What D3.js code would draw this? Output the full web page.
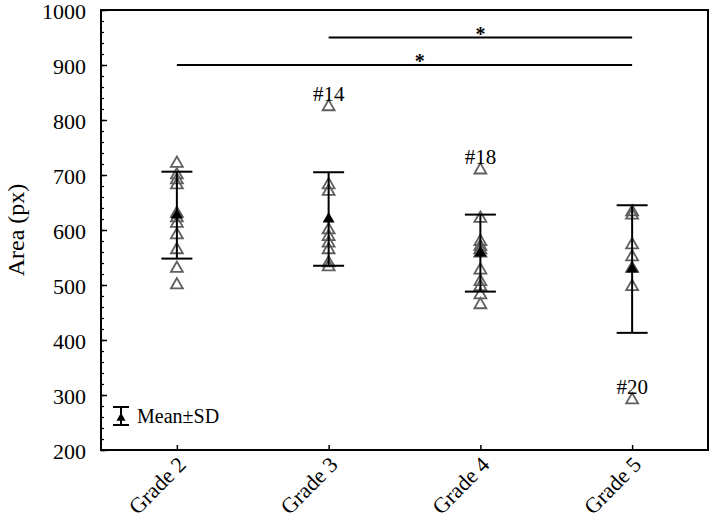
<!DOCTYPE html>
<html>
<head>
<meta charset="utf-8">
<script src="https://cdn.jsdelivr.net/npm/d3@7"></script>
<style>
  body { margin: 0; background: #fff; }
  text { font-family: "Liberation Serif", "Times New Roman", serif; }
</style>
</head>
<body>
<svg id="chart" width="709" height="523"></svg>
<script>
// categories
const grades = ["Grade 2", "Grade 3", "Grade 4", "Grade 5"]

// individual areas (px)
const grade2 = [721, 700, 691, 682, 630, 622, 612, 591, 564, 530, 500]
const grade3 = [824, 682, 670, 600, 588, 576, 564, 540, 533]
const grade4 = [709, 621, 579, 570, 564, 558, 527, 506, 497, 482, 464]
const grade5 = [633, 627, 573, 551, 530, 497, 291]

// mean and SD per grade
const means = [627, 620, 558, 529]
const sds = [79, 85, 70, 116]

// labelled outliers
const outlierGrades = ["Grade 3", "Grade 4", "Grade 5"]
const outlierValues = [824, 709, 291]
const outlierLabels = ["#14", "#18", "#20"]

// significance bars
const sigFrom = ["Grade 3", "Grade 2"]
const sigTo = ["Grade 5", "Grade 5"]
const sigLevel = [950, 900]
const sigStarAt = [2, 1.6]   // star position in category index units

const yTicks = [200, 300, 400, 500, 600, 700, 800, 900, 1000]

let margin = {top: 10, right: 1, bottom: 73, left: 101}
let width = 709, height = 523
let svg = d3.select("#chart")

let x = d3.scalePoint()
  .domain(grades)
  .range([margin.left, width - margin.right])
  .padding(0.5)

let y = d3.scaleLinear()
  .domain([200, 1000])
  .range([height - margin.bottom, margin.top])

let xIdx = d3.scaleLinear()
  .domain([0, grades.length - 1])
  .range([x(grades[0]), x(grades[grades.length - 1])])

// minor ticks
svg.append("g")
  .attr("transform", `translate(${margin.left},0)`)
  .call(d3.axisLeft(y).ticks(40).tickSize(-3).tickFormat(""))
  .call(g => g.select(".domain").remove())
  .selectAll("line").attr("stroke-width", 1.3)

// y axis
let yAxis = svg.append("g")
  .attr("transform", `translate(${margin.left},0)`)
  .call(d3.axisLeft(y).tickValues(yTicks).tickFormat(d3.format("d"))
    .tickSize(-6).tickSizeOuter(0).tickPadding(15))
yAxis.select(".domain").remove()
yAxis.selectAll("line").attr("stroke-width", 1.5)
yAxis.selectAll("text")
  .attr("dy", "0.4em")
  .attr("font-size", 22)
  .attr("fill", "#000")
  .style("font-family", "'Liberation Serif', serif")

// x axis
let xAxis = svg.append("g")
  .attr("transform", `translate(0,${y(200)})`)
  .call(d3.axisBottom(x).tickSize(-5).tickSizeOuter(0))
xAxis.select(".domain").remove()
xAxis.selectAll("line").attr("stroke-width", 1.5)
xAxis.selectAll("text")
  .attr("x", 0).attr("y", 0).attr("dy", 0)
  .attr("text-anchor", "end")
  .attr("transform", "translate(10,16) rotate(-45)")
  .attr("font-size", 22)
  .attr("fill", "#000")
  .style("font-family", "'Liberation Serif', serif")

// frame
svg.append("rect")
  .attr("x", margin.left)
  .attr("y", y(1000))
  .attr("width", width - margin.right - margin.left)
  .attr("height", y(200) - y(1000))
  .attr("fill", "none")
  .attr("stroke", "#000")
  .attr("stroke-width", 2)

// y label
svg.append("text")
  .attr("transform", `translate(24,${(y(200) + y(1000)) / 2}) rotate(-90)`)
  .attr("text-anchor", "middle")
  .attr("font-size", 24)
  .text("Area (px)")

// points
let series = [grade2, grade3, grade4, grade5]
let points = []
series.forEach((vals, i) => vals.forEach(v => points.push({grade: grades[i], value: v})))

let tri = d3.symbol().type(d3.symbolTriangle).size(62)

svg.append("g")
  .selectAll("path")
  .data(points).enter()
  .append("path")
  .attr("d", tri)
  .attr("transform", d => `translate(${x(d.grade)},${y(d.value)})`)
  .attr("fill", "none")
  .attr("stroke", "#5f5f5f")
  .attr("stroke-width", 1.8)

// error bars
let capHalf = 15.5
let bars = svg.append("g")
grades.forEach((g, i) => {
  let cx = x(g)
  bars.append("line")
    .attr("x1", cx).attr("x2", cx)
    .attr("y1", y(means[i] - sds[i])).attr("y2", y(means[i] + sds[i]))
    .attr("stroke", "#000").attr("stroke-width", 2)
  ;[means[i] - sds[i], means[i] + sds[i]].forEach(v => {
    bars.append("line")
      .attr("x1", cx - capHalf).attr("x2", cx + capHalf)
      .attr("y1", y(v)).attr("y2", y(v))
      .attr("stroke", "#000").attr("stroke-width", 2)
  })
  bars.append("path")
    .attr("d", tri)
    .attr("transform", `translate(${cx},${y(means[i])})`)
    .attr("fill", "#000")
})

// outlier labels
svg.append("g")
  .selectAll("text")
  .data(outlierLabels).enter()
  .append("text")
  .attr("x", (d, i) => x(outlierGrades[i]))
  .attr("y", (d, i) => y(outlierValues[i]) - 6)
  .attr("text-anchor", "middle")
  .attr("font-size", 21)
  .text(d => d)

// significance
sigLevel.forEach((lv, i) => {
  svg.append("line")
    .attr("x1", x(sigFrom[i])).attr("x2", x(sigTo[i]))
    .attr("y1", y(lv)).attr("y2", y(lv))
    .attr("stroke", "#000").attr("stroke-width", 2)
  svg.append("text")
    .attr("x", xIdx(sigStarAt[i]))
    .attr("y", y(lv) + 3)
    .attr("text-anchor", "middle")
    .attr("font-size", 20)
    .attr("font-weight", "bold")
    .text("*")
})

// legend
let lg = svg.append("g").attr("transform", "translate(121,416)")
lg.append("line").attr("x1", 0).attr("x2", 0).attr("y1", -9).attr("y2", 9)
  .attr("stroke", "#000").attr("stroke-width", 2)
lg.append("line").attr("x1", -8).attr("x2", 8).attr("y1", -9).attr("y2", -9)
  .attr("stroke", "#000").attr("stroke-width", 2)
lg.append("line").attr("x1", -8).attr("x2", 8).attr("y1", 9).attr("y2", 9)
  .attr("stroke", "#000").attr("stroke-width", 2)
lg.append("path").attr("d", d3.symbol().type(d3.symbolTriangle).size(36))
  .attr("transform", "translate(0,2)").attr("fill", "#000")
lg.append("text").attr("x", 16).attr("y", 7)
  .attr("font-size", 20)
  .text("Mean±SD")
</script>
</body>
</html>
